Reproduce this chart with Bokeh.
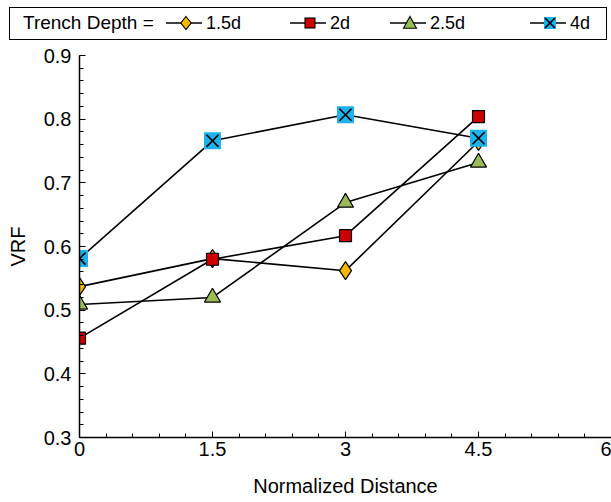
from bokeh.plotting import figure
from bokeh.layouts import column
from bokeh.models import Range1d, FixedTicker, CustomJSTickFormatter, Div
from bokeh.embed import file_html
from bokeh.resources import INLINE

# ---- data ----
distance = [0, 1.5, 3, 4.5]
series_names = ["1.5d", "2d", "2.5d", "4d"]
vrf_15d = [0.537, 0.581, 0.562, 0.765]
vrf_2d = [0.456, 0.580, 0.617, 0.804]
vrf_25d = [0.509, 0.520, 0.669, 0.732]
vrf_4d = [0.581, 0.766, 0.807, 0.770]
x_ticks = [0, 1.5, 3, 4.5, 6]
y_ticks = [0.3, 0.4, 0.5, 0.6, 0.7, 0.8, 0.9]
legend_title = "Trench Depth ="

FONT = "Liberation Sans"

styles = [
    dict(marker="diamond", fill="#F5B800", size=18, lsize=13, line="black"),
    dict(marker="square", fill="#CC0000", size=12, lsize=10, line="black"),
    dict(marker="triangle", fill="#9BBB59", size=16, lsize=13, line="black"),
    dict(marker="square", fill="#1FB2EA", size=17, lsize=12, line=None),
]
values = [vrf_15d, vrf_2d, vrf_25d, vrf_4d]

# ---------------- main plot ----------------
p = figure(width=611, height=462, output_backend="svg", toolbar_location=None,
           x_range=Range1d(0, 6), y_range=Range1d(0.3, 0.9),
           min_border_left=79, min_border_right=0, min_border_top=15, min_border_bottom=65)
p.outline_line_color = None
p.grid.visible = False

x_minor = [round(i * 0.3, 2) for i in range(21)]
y_minor = [round(0.3 + i * 0.02, 3) for i in range(31)]
p.xaxis.ticker = FixedTicker(ticks=x_ticks, minor_ticks=x_minor)
p.yaxis.ticker = FixedTicker(ticks=y_ticks, minor_ticks=y_minor)
p.yaxis.formatter = CustomJSTickFormatter(code="return tick.toFixed(1);")
p.xaxis.formatter = CustomJSTickFormatter(code="return String(Math.round(tick*10)/10);")

for ax in (p.xaxis, p.yaxis):
    ax.axis_line_color = "black"
    ax.axis_line_width = 1.5
    ax.major_tick_in = 6
    ax.major_tick_out = 0
    ax.minor_tick_in = 4
    ax.minor_tick_out = 0
    ax.major_tick_line_color = "black"
    ax.minor_tick_line_color = "black"
    ax.major_label_text_font = FONT
    ax.major_label_text_font_size = "20px"
    ax.major_label_text_color = "black"
    ax.axis_label_text_font = FONT
    ax.axis_label_text_font_size = "20px"
    ax.axis_label_text_font_style = "normal"
    ax.axis_label_text_color = "black"

p.xaxis.axis_label = "Normalized Distance"
p.yaxis.axis_label = "VRF"
p.xaxis.major_label_standoff = 4
p.yaxis.major_label_standoff = 8
p.xaxis.axis_label_standoff = 16
p.yaxis.axis_label_standoff = 12

for name, vals, st in zip(series_names, values, styles):
    p.line(distance, vals, line_color="black", line_width=1.6)
    p.scatter(distance, vals, marker=st["marker"], size=st["size"],
              fill_color=st["fill"], line_color=st["line"], line_width=1.2)
    if name == "4d":
        p.scatter(distance, vals, marker="x", size=17, line_color="black", line_width=1.6)

# ---------------- legend strip (HTML) ----------------
# layout positions of the legend entries (pixels)
title_x = 23
entry_x = [166, 290, 390, 530]
seg_len = 36
mark_off = 20
text_off = 40


def marker_svg(kind, fill, line, cx, cy, s):
    h = s / 2.0
    stroke = 'stroke="black" stroke-width="1.1"' if line else 'stroke="none"'
    if kind == "diamond":
        shape = (f'<polygon points="{cx},{cy-h} {cx+h*0.8},{cy} {cx},{cy+h} {cx-h*0.8},{cy}" '
                 f'fill="{fill}" {stroke}/>')
    elif kind == "triangle":
        shape = (f'<polygon points="{cx},{cy-h} {cx+h},{cy+h*0.8} {cx-h},{cy+h*0.8}" '
                 f'fill="{fill}" {stroke}/>')
    else:
        shape = f'<rect x="{cx-h}" y="{cy-h}" width="{s}" height="{s}" fill="{fill}" {stroke}/>'
    return shape


parts = [
    f'<div style="position:relative;width:611px;height:40px;font-family:\'{FONT}\';'
    f'color:black;margin:0;padding:0;">',
    '<div style="position:absolute;left:9px;top:7px;width:598px;height:33px;'
    'border:1.4px solid black;box-sizing:border-box;"></div>',
    f'<span style="position:absolute;left:{title_x}px;top:13px;height:20px;line-height:20px;'
    f'font-size:19px;white-space:nowrap;">{legend_title}</span>',
]
for name, st, x0 in zip(series_names, styles, entry_x):
    cy = 9
    svg = (f'<svg style="position:absolute;left:{x0}px;top:14px;overflow:visible" '
           f'width="{seg_len}" height="18" xmlns="http://www.w3.org/2000/svg">'
           f'<line x1="0" y1="{cy}" x2="{seg_len}" y2="{cy}" stroke="black" stroke-width="1.6"/>'
           + marker_svg(st["marker"], st["fill"], st["line"], mark_off, cy, st["lsize"]))
    if name == "4d":
        h = st["lsize"] / 2.0 - 1
        svg += (f'<line x1="{mark_off-h}" y1="{cy-h}" x2="{mark_off+h}" y2="{cy+h}" '
                f'stroke="black" stroke-width="1.6"/>'
                f'<line x1="{mark_off-h}" y1="{cy+h}" x2="{mark_off+h}" y2="{cy-h}" '
                f'stroke="black" stroke-width="1.6"/>')
    svg += '</svg>'
    parts.append(svg)
    parts.append(f'<span style="position:absolute;left:{x0 + text_off}px;top:13px;height:20px;'
                 f'line-height:20px;font-size:18px;white-space:nowrap;">{name}</span>')
parts.append('</div>')

legend_div = Div(text="".join(parts), width=611, height=40, margin=0)

layout = column(legend_div, p, spacing=0)
open("out.html", "w").write(file_html(layout, INLINE))
